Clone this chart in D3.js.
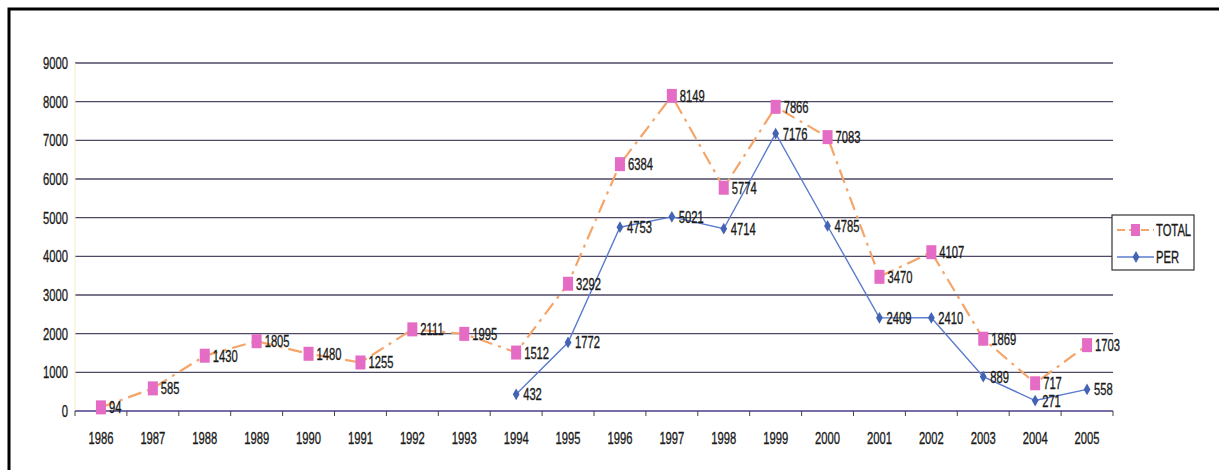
<!DOCTYPE html>
<html>
<head>
<meta charset="utf-8">
<script src="https://cdn.jsdelivr.net/npm/d3@7"></script>
<style>
  body { margin: 0; background: #fff; }
  svg text { font-family: "Liberation Sans", Arial, sans-serif; fill: #1a1a1a; stroke: #1a1a1a; stroke-width: 0.35px; font-size: 17px; }
</style>
</head>
<body>
<div id="chart"></div>
<script>
// data
let years = ["1986","1987","1988","1989","1990","1991","1992","1993","1994","1995",
             "1996","1997","1998","1999","2000","2001","2002","2003","2004","2005"];
let totalValues = [94, 585, 1430, 1805, 1480, 1255, 2111, 1995, 1512, 3292,
                   6384, 8149, 5774, 7866, 7083, 3470, 4107, 1869, 717, 1703];
// PER only starts in 1994
let perYears = ["1994","1995","1996","1997","1998","1999","2000","2001","2002","2003","2004","2005"];
let perValues = [432, 1772, 4753, 5021, 4714, 7176, 4785, 2409, 2410, 889, 271, 558];
let yTicks = [0, 1000, 2000, 3000, 4000, 5000, 6000, 7000, 8000, 9000];

let w = 1219, h = 470;
let margin = {top: 63, right: 106, bottom: 59, left: 75};
let width = w - margin.left - margin.right,
    height = h - margin.top - margin.bottom;

// the scan squeezes the type sideways, so every label is narrowed
let squeeze = 0.66;
function narrowText(sel, fx, fy) {
  sel.attr("transform", function(d, i) {
    return "translate(" + fx(d, i) + "," + fy(d, i) + ") scale(" + squeeze + ",1)";
  });
}

let svg = d3.select("#chart").append("svg")
    .attr("width", w)
    .attr("height", h);

// frame of the scanned page (right/bottom run off the picture)
svg.append("rect")
    .attr("x", 9).attr("y", 9)
    .attr("width", w + 20).attr("height", h + 20)
    .attr("fill", "none")
    .attr("stroke", "#000")
    .attr("stroke-width", 3);

let viz = svg.append("g")
    .attr("transform", "translate(" + margin.left + "," + margin.top + ")");

let xScale = d3.scaleBand().domain(years).range([0, width]);
let yScale = d3.scaleLinear().domain([0, 9000]).range([height, 0]);
let cx = d => xScale(d) + xScale.bandwidth() / 2;

// gridlines
viz.append("g").attr("class", "grid")
  .selectAll("line")
  .data(yTicks.filter(d => d > 0))
  .enter().append("line")
    .attr("x1", 0).attr("x2", width)
    .attr("y1", d => yScale(d)).attr("y2", d => yScale(d))
    .attr("stroke", "#4f4866")
    .attr("stroke-width", 1.4);

// y axis (faint line + labels)
viz.append("line")
    .attr("x1", 0).attr("x2", 0)
    .attr("y1", 0).attr("y2", height)
    .attr("stroke", "#f3ecc8");
let yLabels = viz.append("g").attr("class", "yaxis")
  .selectAll("text")
  .data(yTicks)
  .enter().append("text")
    .attr("text-anchor", "end")
    .text(d => d3.format("d")(d));
narrowText(yLabels, d => -7, d => yScale(d) + 6);

// x axis: ticks sit between categories
let xAxisGroup = viz.append("g").attr("class", "xaxis")
    .attr("transform", "translate(0," + height + ")");
xAxisGroup.append("line")
    .attr("x1", 0).attr("x2", width)
    .attr("stroke", "#4a3f8a").attr("stroke-width", 1.4);
xAxisGroup.selectAll(".tk")
  .data(years.concat(["end"]))
  .enter().append("line")
    .attr("class", "tk")
    .attr("x1", (d, i) => i * xScale.bandwidth())
    .attr("x2", (d, i) => i * xScale.bandwidth())
    .attr("y1", 0).attr("y2", 5)
    .attr("stroke", "#444").attr("stroke-width", 1);
let xLabels = xAxisGroup.selectAll(".lbl")
  .data(years)
  .enter().append("text")
    .attr("class", "lbl")
    .attr("text-anchor", "middle")
    .text(d => d);
narrowText(xLabels, d => cx(d), d => 33);

// lines
let line = d3.line().x(d => cx(d[0])).y(d => yScale(d[1]));
let totalData = years.map((y, i) => [y, totalValues[i]]);
let perData = perYears.map((y, i) => [y, perValues[i]]);

viz.append("path")
    .datum(totalData)
    .attr("fill", "none")
    .attr("stroke", "#f4a56a")
    .attr("stroke-width", 2.2)
    .attr("stroke-dasharray", "14,6,3,6")
    .attr("d", line);

viz.append("path")
    .datum(perData)
    .attr("fill", "none")
    .attr("stroke", "#5b7ccc")
    .attr("stroke-width", 1.4)
    .attr("d", line);

// markers
viz.selectAll(".sq")
  .data(totalData)
  .enter().append("rect")
    .attr("class", "sq")
    .attr("x", d => cx(d[0]) - 5)
    .attr("y", d => yScale(d[1]) - 7)
    .attr("width", 10).attr("height", 14)
    .attr("fill", "#e56cc4");

viz.selectAll(".dia")
  .data(perData)
  .enter().append("path")
    .attr("class", "dia")
    .attr("transform", d => "translate(" + cx(d[0]) + "," + yScale(d[1]) + ")")
    .attr("d", d3.symbol().type(d3.symbolDiamond).size(40))
    .attr("fill", "#4363b4");

// data labels
let tl = viz.selectAll(".tl")
  .data(totalData)
  .enter().append("text")
    .attr("class", "tl")
    .text(d => d[1]);
narrowText(tl, d => cx(d[0]) + 8, d => yScale(d[1]) + 6);

let pl = viz.selectAll(".pl")
  .data(perData)
  .enter().append("text")
    .attr("class", "pl")
    .text(d => d[1]);
narrowText(pl, d => cx(d[0]) + 7, d => yScale(d[1]) + 6);

// legend
let legend = svg.append("g").attr("transform", "translate(1112,215)");
legend.append("rect")
    .attr("width", 82).attr("height", 55)
    .attr("fill", "#fff")
    .attr("stroke", "#333").attr("stroke-width", 1.2);
let items = [
  {name: "TOTAL", y: 15, stroke: "#f4a56a", dash: "8,4", marker: "sq"},
  {name: "PER", y: 42, stroke: "#5b7ccc", dash: null, marker: "dia"}
];
items.forEach(it => {
  legend.append("line")
    .attr("x1", 5).attr("x2", 42)
    .attr("y1", it.y).attr("y2", it.y)
    .attr("stroke", it.stroke)
    .attr("stroke-width", it.marker == "sq" ? 2.2 : 1.4)
    .attr("stroke-dasharray", it.dash);
  if (it.marker == "sq") {
    legend.append("rect").attr("x", 19).attr("y", it.y - 6)
      .attr("width", 9).attr("height", 12).attr("fill", "#e56cc4");
  } else {
    legend.append("path")
      .attr("transform", "translate(24," + it.y + ")")
      .attr("d", d3.symbol().type(d3.symbolDiamond).size(40))
      .attr("fill", "#4363b4");
  }
  legend.append("text")
    .attr("transform", "translate(44," + (it.y + 6) + ") scale(" + squeeze + ",1)")
    .text(it.name);
});
</script>
</body>
</html>
